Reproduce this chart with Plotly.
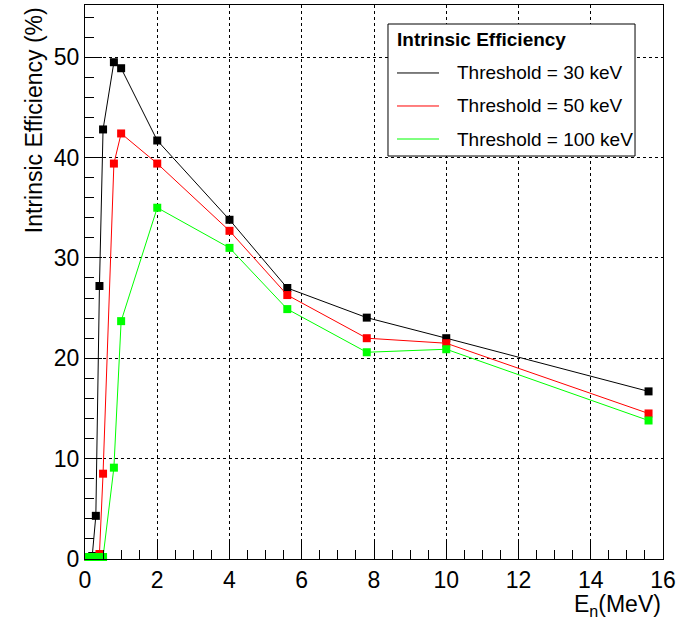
import plotly.graph_objects as go

# ---- data ----
energy = [0.1, 0.2, 0.3, 0.4, 0.5, 0.8, 1.0, 2.0, 4.0, 5.6, 7.8, 10.0, 15.6]
eff_30keV = [0.2, 0.3, 4.3, 27.2, 42.8, 49.5, 48.9, 41.7, 33.8, 27.0, 24.05, 22.0, 16.7]
eff_50keV = [0.2, 0.2, 0.2, 0.5, 8.5, 39.4, 42.4, 39.4, 32.7, 26.3, 22.0, 21.5, 14.5]
eff_100keV = [0.2, 0.2, 0.2, 0.2, 0.2, 9.1, 23.7, 35.0, 31.0, 24.9, 20.6, 20.9, 13.8]
series_names = ["Threshold = 30 keV", "Threshold = 50 keV", "Threshold = 100 keV"]
series_colors = ["#000000", "#ff0000", "#00ff00"]
legend_title = "Intrinsic Efficiency"
x_title = "E<sub>n</sub>(MeV)"
y_title = "Intrinsic Efficiency (%)"
x_ticks = [0, 2, 4, 6, 8, 10, 12, 14, 16]
y_ticks = [0, 10, 20, 30, 40, 50]

FONT = "Liberation Sans, Arial, Helvetica, sans-serif"

fig = go.Figure()
for ys, name, col in zip([eff_30keV, eff_50keV, eff_100keV], series_names, series_colors):
    fig.add_trace(go.Scatter(
        x=energy, y=ys, name=name, mode="lines+markers",
        line=dict(color=col, width=1),
        marker=dict(symbol="square", size=8, color=col),
        showlegend=False, cliponaxis=False,
    ))

fig.update_layout(
    width=678, height=619,
    margin=dict(l=85, r=15, t=5, b=60),
    paper_bgcolor="white", plot_bgcolor="white",
    font=dict(family=FONT, color="black", size=23),
    showlegend=False,
)
common = dict(
    ticks="inside", ticklen=17, tickcolor="black", tickwidth=1,
    showline=True, linecolor="black", linewidth=1, mirror=True,
    showgrid=True, gridcolor="black", griddash="dot", gridwidth=1,
    zeroline=False, tickfont=dict(size=23), automargin=False,
)
fig.update_xaxes(
    range=[0, 16], tickvals=x_ticks, ticktext=[str(v) for v in x_ticks],
    minor=dict(ticks="inside", ticklen=9, dtick=0.5, tickcolor="black", showgrid=False),
    ticklabelstandoff=0, **common,
)
fig.update_yaxes(
    range=[0, 55.2], tickvals=y_ticks, ticktext=[str(v) for v in y_ticks],
    minor=dict(ticks="inside", ticklen=9, dtick=2, tickcolor="black", showgrid=False),
    ticklabelstandoff=0, **common,
)

# axis titles (ROOT style: aligned to the axis end)
fig.add_annotation(text=x_title, xref="paper", yref="paper", x=1.0, y=0,
                   xanchor="right", yanchor="top", yshift=-30, showarrow=False,
                   font=dict(size=23, family=FONT))
fig.add_annotation(text=y_title, xref="paper", yref="paper", x=-0.088, y=1.0,
                   xanchor="center", yanchor="top", textangle=-90, showarrow=False,
                   font=dict(size=23, family=FONT))

# legend box drawn ROOT-like
bx0, bx1, by0, by1 = 0.5242, 0.9516, 0.7274, 0.9657
fig.add_shape(type="rect", xref="paper", yref="paper", x0=bx0, x1=bx1, y0=by0, y1=by1,
              line=dict(color="black", width=1), fillcolor="white", layer="above")
fig.add_annotation(text="<b>" + legend_title + "</b>", xref="paper", yref="paper",
                   x=0.5363, y=0.9386, xanchor="left", yanchor="middle", showarrow=False,
                   font=dict(size=19, family=FONT))
entry_y = [0.8773, 0.8177, 0.7581]
for name, col, ey in zip(series_names, series_colors, entry_y):
    fig.add_shape(type="line", xref="paper", yref="paper", x0=0.5398, x1=0.6125, y0=ey, y1=ey,
                  line=dict(color=col, width=1), layer="above")
    fig.add_annotation(text=name, xref="paper", yref="paper", x=0.6401, y=ey,
                       xanchor="left", yanchor="middle", showarrow=False,
                       font=dict(size=19, family=FONT))

fig.write_html("out.html", config={"displayModeBar": False},
               post_script="document.body.style.margin='0';document.body.style.padding='0';")
